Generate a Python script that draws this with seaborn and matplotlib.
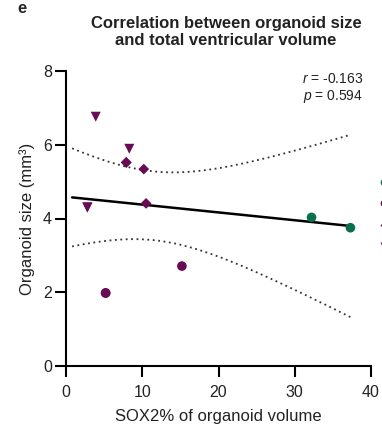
import numpy as np
import pandas as pd
import matplotlib
matplotlib.use('Agg')
import matplotlib.pyplot as plt
import seaborn as sns

# Данные (n = 13, три точки перекрываются другими)
sox2_pct = [5.2, 15.2, 3.9, 8.3, 2.8, 7.9, 10.2, 10.5, 32.2, 37.3, 5.2, 2.8, 7.9]
organoid_size = [1.98, 2.71, 6.76, 5.89, 4.30, 5.52, 5.34, 4.41, 4.03, 3.75, 1.98, 4.30, 5.52]
group = ['Line 1', 'Line 1', 'Line 3', 'Line 3', 'Line 3',
         'Line 2', 'Line 2', 'Line 2', 'Control', 'Control',
         'Line 1', 'Line 3', 'Line 2']
group_order = ['Control', 'Line 1', 'Line 2', 'Line 3']
group_colors = {'Control': '#0a6e4f', 'Line 1': '#690a55', 'Line 2': '#690a55', 'Line 3': '#690a55'}
group_markers = {'Control': 'o', 'Line 1': 'o', 'Line 2': 'D', 'Line 3': 'v'}
group_sizes = {'Control': 48, 'Line 1': 48, 'Line 2': 30, 'Line 3': 52}
r_text = '$r$ = -0.163\n$p$ = 0.594'

df = pd.DataFrame({'sox2': sox2_pct, 'size': organoid_size, 'group': group})

sns.set_style('ticks')
plt.rcParams['font.family'] = ['Liberation Sans', 'DejaVu Sans']
plt.rcParams['mathtext.fontset'] = 'custom'
plt.rcParams['mathtext.it'] = 'Liberation Sans:italic'

fig = plt.figure(figsize=(3.82, 4.28), dpi=100)
ax = fig.add_axes([66 / 382, 1 - 366 / 428, 305 / 382, 295 / 428])

# Линейная регрессия и 95% доверительная полоса
x = df['sox2'].to_numpy()
y = df['size'].to_numpy()
n = len(x)
slope, intercept = np.polyfit(x, y, 1)
resid = y - (slope * x + intercept)
s_err = np.sqrt(np.sum(resid ** 2) / (n - 2))
t_crit = 2.201  # t(0.975, df=11)
xx = np.linspace(0.8, x.max(), 200)
yy = slope * xx + intercept
half = t_crit * s_err * np.sqrt(1 / n + (xx - x.mean()) ** 2 / np.sum((x - x.mean()) ** 2))

ax.plot(xx, yy, color='black', lw=1.8, zorder=2)
ax.plot(xx, yy + half, color='#333333', lw=1.3, ls=(0, (1, 2)), zorder=2)
ax.plot(xx, yy - half, color='#333333', lw=1.3, ls=(0, (1, 2)), zorder=2)

sns.scatterplot(data=df, x='sox2', y='size', hue='group', style='group', size='group',
                hue_order=group_order, style_order=group_order, size_order=group_order,
                palette=group_colors, markers=group_markers, sizes=group_sizes,
                edgecolor='none', ax=ax, zorder=3)

# Легенда почти целиком за правым краем, видны только края маркеров
handles, _ = ax.get_legend_handles_labels()
ax.legend(handles, [''] * len(handles), loc='center left', bbox_to_anchor=(1.011, 0.51),
          frameon=False, handlelength=0.8, handletextpad=0.4, labelspacing=0.75,
          fontsize=9, markerscale=0.8, borderaxespad=0, borderpad=0.4)

ax.set_xlim(0, 40)
ax.set_ylim(0, 8)
ax.set_xticks([0, 10, 20, 30, 40])
ax.set_yticks([0, 2, 4, 6, 8])
ax.tick_params(labelsize=11.5, width=1.5, length=8, color='black', labelcolor='#222222')
ax.tick_params(axis='x', pad=6)
ax.tick_params(axis='y', pad=2)
for side in ['left', 'bottom']:
    ax.spines[side].set_linewidth(1.5)
    ax.spines[side].set_color('black')
sns.despine(ax=ax)
ax.set_xlabel('SOX2% of organoid volume', fontsize=12, labelpad=6, color='#222222')
ax.set_ylabel('Organoid size (mm³)', fontsize=12, labelpad=6, color='#222222')

ax.text(0.975, 0.995, r_text, transform=ax.transAxes, ha='right', va='top',
        fontsize=10, linespacing=1.15, color='#222222')
ax.set_title('Correlation between organoid size\nand total ventricular volume',
             fontsize=12, fontweight='bold', color='#222222', pad=19, x=0.525,
             linespacing=1.1)
fig.text(0.045, 0.998, 'e', fontsize=12, fontweight='bold', va='top')

plt.savefig('out.png', dpi=100)
